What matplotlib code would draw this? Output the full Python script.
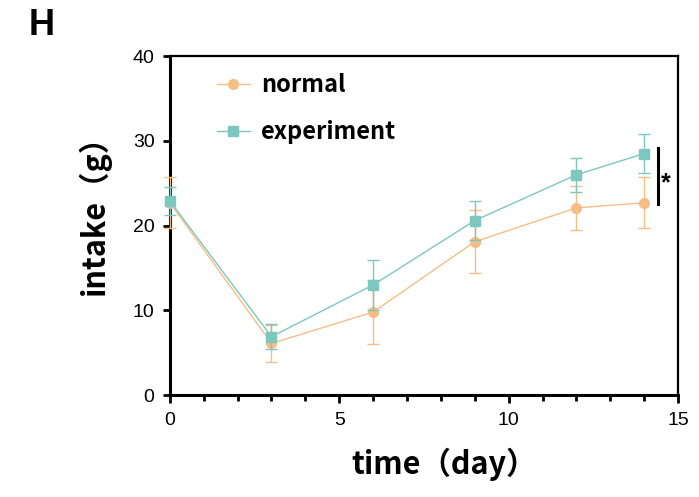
import numpy as np
import matplotlib.pyplot as plt
from matplotlib.ticker import MultipleLocator
from matplotlib.lines import Line2D

# data
days = [0, 3, 6, 9, 12, 14]
normal_mean = [22.7, 6.1, 9.8, 18.1, 22.1, 22.7]
normal_sd = [3.0, 2.2, 3.8, 3.7, 2.6, 3.0]
exp_mean = [22.9, 6.9, 13.0, 20.6, 26.0, 28.5]
exp_sd = [1.7, 1.5, 3.0, 2.3, 2.0, 2.3]

c_normal = "#F5BE85"
c_exp = "#7CC7BF"

plt.rcParams["font.family"] = ["Liberation Sans", "DejaVu Sans"]
cjk = ["Noto Sans CJK SC", "DejaVu Sans"]

fig = plt.figure(figsize=(6.99, 4.97), dpi=100)
ax = fig.add_axes([0.243, 0.205, 0.727, 0.682])

for mean, sd, col, mk, z in [(normal_mean, normal_sd, c_normal, "o", 3),
                             (exp_mean, exp_sd, c_exp, "s", 4)]:
    cont = ax.errorbar(days, mean, yerr=sd, color=col, marker=mk,
                       markersize=7, linewidth=1.0, elinewidth=1.0, capsize=4,
                       capthick=1.0, zorder=z)
    for art in cont.get_children():
        art.set_clip_on(False)

ax.set_xlim(0, 15)
ax.set_ylim(0, 40)
ax.xaxis.set_major_locator(MultipleLocator(5))
ax.xaxis.set_minor_locator(MultipleLocator(1))
ax.yaxis.set_major_locator(MultipleLocator(10))
ax.tick_params(axis="both", which="major", direction="out", length=6, width=2,
               labelsize=14, pad=6)
ax.tick_params(axis="x", which="minor", direction="out", length=4, width=2)
ax.tick_params(axis="y", which="major", length=5)

for side in ["left", "bottom"]:
    ax.spines[side].set_linewidth(2.2)
for side in ["top", "right"]:
    ax.spines[side].set_linewidth(1.6)

ax.set_xlabel("time（day）", fontsize=22, fontweight="bold", family=cjk)
ax.set_ylabel("intake（g）", fontsize=22, fontweight="bold", family=cjk)
ax.xaxis.set_label_coords(0.54, -0.205)
ax.yaxis.set_label_coords(-0.148, 0.555)
ax.xaxis.label.set_va("center")
ax.yaxis.label.set_va("center")

handles = [Line2D([], [], color=c_normal, marker="o", markersize=7, linewidth=1.0),
           Line2D([], [], color=c_exp, marker="s", markersize=7, linewidth=1.0)]
ax.legend(handles, ["normal", "experiment"], loc="upper left",
          bbox_to_anchor=(0.05, 1.012), frameon=False,
          prop={"weight": "bold", "size": 17, "family": cjk}, handlelength=1.4,
          labelspacing=0.95, handletextpad=0.5)

# significance bar
ax.plot([14.4, 14.4], [22.6, 29.2], color="black", linewidth=2.2, clip_on=False)
ax.text(14.65, 25.0, "*", fontsize=18, fontweight="bold", ha="center", va="center")

fig.text(0.060, 0.948, "H", fontsize=26, fontweight="bold", ha="center", va="center")

fig.savefig("out.png", dpi=100, facecolor="white")
